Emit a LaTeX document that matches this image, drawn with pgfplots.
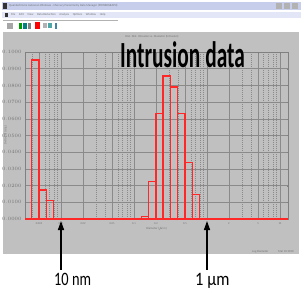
\documentclass[border=0pt]{standalone}
\usepackage{pgfplots}
\pgfplotsset{compat=1.18}
\usepackage{fontspec}
\setmainfont{Carlito}
\usetikzlibrary{arrows.meta}
\definecolor{panel}{RGB}{192,192,192}
\definecolor{gridc}{RGB}{138,138,138}
\definecolor{barred}{RGB}{255,40,40}
\definecolor{titlebar}{RGB}{198,206,236}
\definecolor{menubar}{RGB}{226,230,246}
\newcommand{\tinyt}{\fontsize{3}{3.5}\selectfont}
\begin{document}
\begin{tikzpicture}[x=1bp,y=1bp]
\fill[white] (0,0) rectangle (304,-299);
\path[use as bounding box] (0,0) rectangle (304,-299);
% window title bar
\fill[titlebar] (2,-1.5) rectangle (301,-10);
\fill[black!80] (3,-3) rectangle (7,-8.5);
\node[anchor=west, inner sep=0, text=black!55, font=\tinyt] at (9,-5.8) {Quantachrome Autoscan Windows - Mercury Porosimetry Data Manager (POWERGRAPH)};
\fill[gray!60] (276,-3) rectangle (282,-8.5);
\fill[gray!60] (284,-3) rectangle (290,-8.5);
\fill[gray!60] (292,-3) rectangle (298,-8.5);
% menu bar
\fill[menubar] (2,-11.5) rectangle (301,-18);
\fill[black!80] (5,-12.5) rectangle (8,-17);
\node[anchor=west, inner sep=0, text=black!55, font=\tinyt] at (11,-14.8) {File \quad Edit \quad View \quad Data Reduction \quad Analysis \quad Options \quad Window \quad Help};
% toolbar
\draw[gray!60, line width=0.4] (3,-20) -- (118,-20);
\fill[gray!70] (7,-23) rectangle (13,-29);
\fill[green!60!black] (19,-23) rectangle (22,-29);
\fill[teal] (23,-23) rectangle (27,-29);
\fill[gray] (28,-23) rectangle (31,-29);
\fill[red] (35,-22) rectangle (40,-29);
\fill[gray!60] (43,-23) rectangle (47,-28);
\fill[teal!70] (48,-23) rectangle (52,-28);
\fill[cyan!60!black] (55,-23) rectangle (57,-29);
% panel
\fill[panel] (3,-31.5) rectangle (299,-254);
\node[inner sep=0, text=black!55, font=\tinyt] at (152,-37) {Hist. Dist. Intrusion vs. Diameter (Intrusion)};
\node[inner sep=0, text=black!55, font=\tinyt, anchor=west] at (252,-252) {Log Diameter};
\node[inner sep=0, text=black!55, font=\tinyt, anchor=west] at (278,-252) {Mar 10 2010};
\node[inner sep=0, text=black!55, font=\tinyt, rotate=90] at (5.5,-135) {Dv(log d) (cc/g)};

\begin{axis}[
  at={(25bp,-219bp)}, anchor=south west,
  scale only axis, width=263bp, height=167bp,
  xmode=log, xmin=0.00321, xmax=12.9, ymin=0, ymax=0.1,
  axis background/.style={fill=panel},
  xtick={0.005,0.01,0.02,0.05,0.1,0.2,0.5,1,2,5,10},
  xticklabels={0.005,0.01,0.02,0.05,0.1,0.2,0.5,1,2,5,10},
  minor xtick={0.004,0.006,0.007,0.008,0.009,0.03,0.04,0.06,0.07,0.08,0.09,0.3,0.4,0.6,0.7,0.8,0.9,3,4,6,7,8,9},
  ytick={0,0.01,0.02,0.03,0.04,0.05,0.06,0.07,0.08,0.09,0.1},
  yticklabel style={/pgf/number format/fixed, /pgf/number format/fixed zerofill, /pgf/number format/precision=4},
  xmajorgrids, xminorgrids, ymajorgrids,
  major grid style={gridc, line width=0.6bp},
  minor grid style={gridc, dash pattern=on 1bp off 1bp, line width=0.5bp},
  axis line style={black!50, line width=0.6bp},
  major tick length=1.5bp, minor tick length=0pt,
  tick style={black!50},
  tick label style={font=\fontsize{2.8}{3}\selectfont, text=black!55},
  xlabel={Diameter ($\mu$m)},
  label style={font=\tinyt, text=black!55},
  xlabel style={yshift=4bp},
]
\addplot[barred, line width=1.3bp] coordinates {(0.00321,0) (12.9,0)};
\addplot[barred, line width=1.3bp, line join=miter] coordinates {
  (0.00398,0) (0.00398,0.0952) (0.00501,0.0952) (0.00501,0)
  (0.00501,0.0173) (0.00631,0.0173) (0.00631,0)
  (0.00631,0.0110) (0.00794,0.0110) (0.00794,0)
};
\addplot[barred, line width=1.3bp, line join=miter] coordinates {
  (0.126,0) (0.126,0.0014) (0.158,0.0014) (0.158,0)
  (0.158,0.0223) (0.200,0.0223) (0.200,0)
  (0.200,0.0631) (0.251,0.0631) (0.251,0)
  (0.251,0.0857) (0.316,0.0857) (0.316,0)
  (0.316,0.0791) (0.398,0.0791) (0.398,0)
  (0.398,0.0631) (0.501,0.0631) (0.501,0)
  (0.501,0.0337) (0.631,0.0337) (0.631,0)
  (0.631,0.0147) (0.794,0.0147) (0.794,0)
};
\end{axis}

% title
\node[anchor=base west, inner sep=0] at (120,-67) {\scalebox{0.58}[1]{\fontsize{37}{37}\selectfont\bfseries Intrusion data}};
% arrows
\draw[black, line width=1.5bp, -{Triangle[width=6bp,length=9bp]}] (61,-270) -- (61,-221);
\draw[black, line width=1.5bp, -{Triangle[width=6bp,length=9bp]}] (207,-270) -- (207,-221);
\node[anchor=base west, inner sep=0] at (54,-285) {\scalebox{0.76}[1]{\fontsize{19}{19}\selectfont 10 nm}};
\node[anchor=base west, inner sep=0] at (195,-285) {\scalebox{0.87}[1]{\fontsize{19}{19}\selectfont 1 µm}};
\end{tikzpicture}
\end{document}
